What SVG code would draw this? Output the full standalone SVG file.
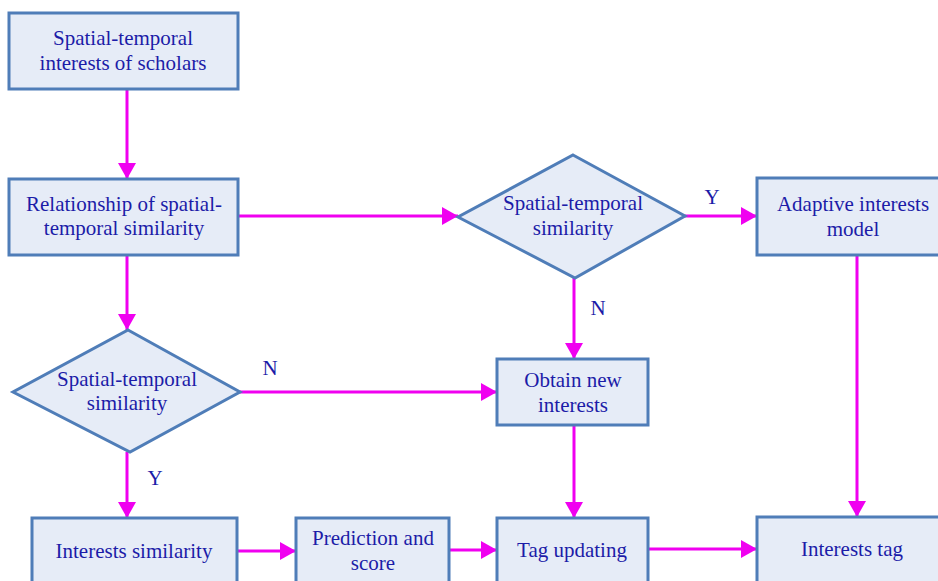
<svg xmlns="http://www.w3.org/2000/svg" width="938" height="581" viewBox="0 0 938 581">
<defs>
<marker id="ah" markerUnits="userSpaceOnUse" markerWidth="17" markerHeight="18" refX="16" refY="9" orient="auto">
<path d="M0,0 L16,9 L0,18 Z" fill="#F000F0"/>
</marker>
<style>
.n{fill:#E6ECF7;stroke:#4F7DB8;stroke-width:3}
.t{font-family:"Liberation Serif","Times New Roman",serif;font-size:21px;fill:#1C1CA8;text-anchor:middle}
.c{stroke:#F000F0;stroke-width:3;fill:none;marker-end:url(#ah)}
</style>
</defs>
<rect width="938" height="581" fill="#FFFFFF"/>
<g id="connectors">
<line class="c" x1="127" y1="89" x2="127" y2="179"/>
<line class="c" x1="238" y1="216" x2="458" y2="216"/>
<line class="c" x1="685" y1="216" x2="757" y2="216"/>
<line class="c" x1="857" y1="255" x2="857" y2="517"/>
<line class="c" x1="574" y1="278" x2="574" y2="359"/>
<line class="c" x1="127" y1="255" x2="127" y2="330"/>
<line class="c" x1="240" y1="392" x2="497" y2="392"/>
<line class="c" x1="127" y1="452" x2="127" y2="518"/>
<line class="c" x1="574" y1="425" x2="574" y2="518"/>
<line class="c" x1="237" y1="551" x2="296" y2="551"/>
<line class="c" x1="449" y1="550" x2="497" y2="550"/>
<line class="c" x1="648" y1="549" x2="757" y2="549"/>
<text class="t" x="712" y="204">Y</text>
<text class="t" x="598" y="315">N</text>
<text class="t" x="270" y="375">N</text>
<text class="t" x="155" y="485">Y</text>
</g>
<g id="node-scholars">
<rect class="n" x="9" y="13" width="229" height="76"/>
<text class="t" x="123" y="45">Spatial-temporal</text>
<text class="t" x="123" y="70">interests of scholars</text>
</g>
<g id="node-relationship">
<rect class="n" x="9" y="179" width="229" height="76"/>
<text class="t" x="124" y="211">Relationship of spatial-</text>
<text class="t" x="124" y="235">temporal similarity</text>
</g>
<g id="node-diamond-top">
<polygon class="n" points="573,155 685,216 575,278 458,217"/>
<text class="t" x="573" y="210">Spatial-temporal</text>
<text class="t" x="573" y="235">similarity</text>
</g>
<g id="node-adaptive">
<rect class="n" x="757" y="178" width="195" height="77"/>
<text class="t" x="853" y="211">Adaptive interests</text>
<text class="t" x="853" y="236">model</text>
</g>
<g id="node-diamond-left">
<polygon class="n" points="128,330 240,392 130,452 13,392"/>
<text class="t" x="127" y="386">Spatial-temporal</text>
<text class="t" x="127" y="410">similarity</text>
</g>
<g id="node-obtain">
<rect class="n" x="497" y="359" width="151" height="66"/>
<text class="t" x="573" y="387">Obtain new</text>
<text class="t" x="573" y="412">interests</text>
</g>
<g id="node-interests-similarity">
<rect class="n" x="32" y="518" width="205" height="80"/>
<text class="t" x="134" y="558">Interests similarity</text>
</g>
<g id="node-prediction">
<rect class="n" x="296" y="518" width="153" height="80"/>
<text class="t" x="373" y="545">Prediction and</text>
<text class="t" x="373" y="570">score</text>
</g>
<g id="node-tag-updating">
<rect class="n" x="497" y="518" width="151" height="80"/>
<text class="t" x="572" y="557">Tag updating</text>
</g>
<g id="node-interests-tag">
<rect class="n" x="757" y="517" width="195" height="80"/>
<text class="t" x="852" y="556">Interests tag</text>
</g>
</svg>
